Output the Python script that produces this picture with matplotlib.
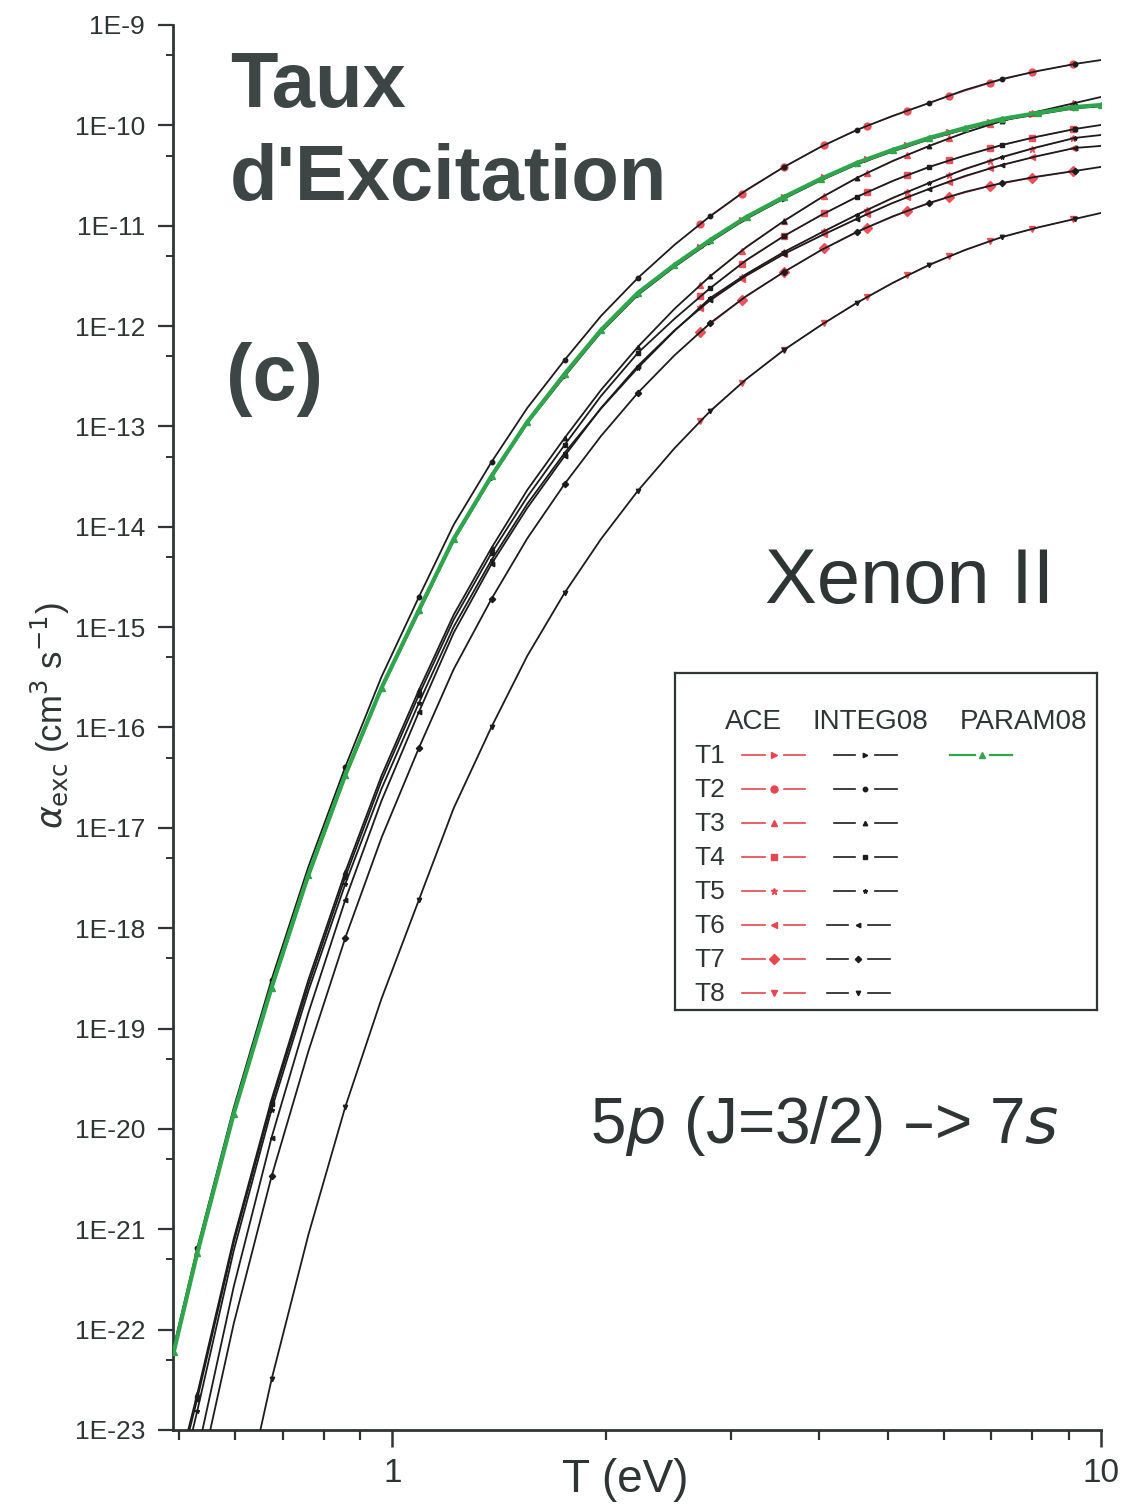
import numpy as np
import matplotlib
matplotlib.use("Agg")
import matplotlib.pyplot as plt
from matplotlib.ticker import FixedLocator, NullFormatter, FixedFormatter

# ---------------------------------------------------------------- data
# electron temperatures (eV) of the INTEG08 / PARAM08 tables
t_grid = [0.491, 0.53, 0.597, 0.675, 0.761, 0.858, 0.965, 1.09, 1.22, 1.38, 1.55, 1.75, 1.97,
          2.22, 2.50, 2.81, 3.16, 3.57, 4.02, 4.52, 5.08, 5.72, 6.43, 7.25, 8.15, 9.19, 10.0]

# log10 of the INTEG08 excitation rate coefficients (cm^3 s^-1)
log_integ_t1 = [-22.25, -21.26, -19.86, -18.61, -17.49, -16.49, -15.62, -14.85, -14.14, -13.51, -12.97, -12.50, -12.06,
                -11.69, -11.41, -11.16, -10.93, -10.73, -10.55, -10.39, -10.26, -10.14, -10.04, -9.95, -9.89, -9.83, -9.81]
log_integ_t2 = [-22.177, -21.191, -19.787, -18.512, -17.386, -16.390, -15.494, -14.697, -13.980, -13.353, -12.815, -12.337, -11.898,
                -11.520, -11.191, -10.902, -10.643, -10.414, -10.215, -10.046, -9.906, -9.777, -9.647, -9.538, -9.458, -9.388, -9.349]
log_integ_t3 = [-23.582, -22.645, -21.092, -19.707, -18.512, -17.436, -16.480, -15.624, -14.877, -14.209, -13.632, -13.114, -12.635,
                -12.207, -11.829, -11.500, -11.211, -10.952, -10.723, -10.524, -10.355, -10.205, -10.071, -9.956, -9.862, -9.777, -9.717]
log_integ_t4 = [-23.631, -22.695, -21.131, -19.747, -18.562, -17.486, -16.530, -15.673, -14.926, -14.259, -13.701, -13.183, -12.695,
                -12.267, -11.928, -11.620, -11.341, -11.102, -10.897, -10.713, -10.554, -10.414, -10.300, -10.195, -10.111, -10.036, -9.996]
log_integ_t5 = [-23.801, -22.815, -21.211, -19.807, -18.622, -17.556, -16.610, -15.753, -14.996, -14.329, -13.771, -13.263, -12.820,
                -12.416, -12.048, -11.719, -11.480, -11.261, -11.072, -10.892, -10.723, -10.574, -10.434, -10.315, -10.215, -10.125, -10.096]
log_integ_t6 = [-24.229, -23.243, -21.570, -20.086, -18.841, -17.715, -16.729, -15.843, -15.056, -14.369, -13.811, -13.293, -12.815,
                -12.396, -12.043, -11.739, -11.495, -11.281, -11.102, -10.932, -10.773, -10.633, -10.504, -10.394, -10.305, -10.225, -10.205]
log_integ_t7 = [-24.578, -23.592, -21.938, -20.474, -19.224, -18.094, -17.098, -16.201, -15.419, -14.717, -14.115, -13.572, -13.094,
                -12.665, -12.292, -11.968, -11.699, -11.460, -11.246, -11.062, -10.907, -10.773, -10.663, -10.574, -10.509, -10.454, -10.414]
log_integ_t8 = [-26.978, -25.882, -24.199, -22.496, -21.052, -19.777, -18.701, -17.715, -16.804, -15.992, -15.285, -14.657, -14.120,
                -13.641, -13.218, -12.845, -12.526, -12.237, -11.993, -11.769, -11.570, -11.390, -11.241, -11.112, -11.017, -10.932, -10.873]

# log10 of the PARAM08 fit for transition T1
log_param_t1 = [-22.227, -21.241, -19.847, -18.592, -17.466, -16.470, -15.604, -14.827, -14.120, -13.492, -12.954, -12.476, -12.038,
                -11.669, -11.390, -11.141, -10.912, -10.713, -10.534, -10.375, -10.245, -10.125, -10.026, -9.936, -9.876, -9.817, -9.797]

# ACE temperatures (eV) and log10 of the ACE rate coefficients (cm^3 s^-1)
t_ace = [2.72, 3.11, 3.57, 4.07, 4.67, 5.33, 6.11, 6.98, 7.99, 9.13]
log_ace_t1 = [-11.211, -10.942, -10.713, -10.514, -10.335, -10.195, -10.071, -9.966, -9.886, -9.822]
log_ace_t2 = [-10.982, -10.683, -10.414, -10.195, -10.006, -9.857, -9.707, -9.578, -9.468, -9.393]
log_ace_t3 = [-11.590, -11.251, -10.952, -10.703, -10.474, -10.295, -10.130, -9.991, -9.881, -9.782]
log_ace_t4 = [-11.699, -11.380, -11.102, -10.877, -10.668, -10.494, -10.350, -10.230, -10.125, -10.041]
log_ace_t5 = [-11.809, -11.510, -11.261, -11.052, -10.843, -10.663, -10.494, -10.355, -10.235, -10.130]
log_ace_t6 = [-11.819, -11.530, -11.281, -11.082, -10.887, -10.713, -10.564, -10.429, -10.320, -10.230]
log_ace_t7 = [-12.058, -11.739, -11.460, -11.226, -11.022, -10.853, -10.713, -10.604, -10.524, -10.459]
log_ace_t8 = [-12.944, -12.566, -12.237, -11.968, -11.714, -11.495, -11.306, -11.151, -11.032, -10.937]

labels = ["T1", "T2", "T3", "T4", "T5", "T6", "T7", "T8"]
markers = [">", "o", "^", "s", "*", "<", "D", "v"]

integ = [log_integ_t1, log_integ_t2, log_integ_t3, log_integ_t4,
         log_integ_t5, log_integ_t6, log_integ_t7, log_integ_t8]
ace = [log_ace_t1, log_ace_t2, log_ace_t3, log_ace_t4,
       log_ace_t5, log_ace_t6, log_ace_t7, log_ace_t8]

# ---------------------------------------------------------------- styles
RED = "#e8454f"
GREEN = "#2fa64c"
BLACK = "#1c1c1c"
INK = "#2f3434"
TITLE = "#3d4645"

plt.rcParams["font.family"] = ["Liberation Sans", "DejaVu Sans"]

W, H = 1123, 1510
fig = plt.figure(figsize=(W / 100, H / 100), dpi=100)
ax = fig.add_axes([173 / W, 1 - 1430 / H, (1101 - 173) / W, (1430 - 25) / H])

ax.set_xscale("log")
ax.set_yscale("log")
ax.set_xlim(0.49, 10)
ax.set_ylim(1e-23, 1e-9)

# ACE points (red) lie underneath the INTEG08 curves
for vals, mk in zip(ace, markers):
    ax.plot(t_ace, np.power(10.0, vals), color=RED, lw=0.8, marker=mk, ms=5,
            mec=RED, mfc=RED, alpha=0.9, zorder=2)

# INTEG08 curves (black), symbols on every other tabulated temperature
for vals, mk in zip(integ, markers):
    ax.plot(t_grid, np.power(10.0, vals), color=BLACK, lw=1.3, marker=mk, ms=3.2,
            mec=BLACK, mfc=BLACK, markevery=list(range(1, 26, 2)), zorder=4)

# PARAM08 fit for T1 (green), drawn over its INTEG08 counterpart
ax.plot(t_grid, np.power(10.0, log_param_t1), color=GREEN, lw=3.0, marker="^", ms=3.8,
        mec=GREEN, mfc=GREEN, zorder=5)

# axes decoration
for side in ("top", "right"):
    ax.spines[side].set_visible(False)
for side in ("left", "bottom"):
    ax.spines[side].set_linewidth(2.0)
    ax.spines[side].set_color(INK)

exps = list(range(-23, -8))
ax.yaxis.set_major_locator(FixedLocator([10.0 ** e for e in exps]))
ax.yaxis.set_major_formatter(FixedFormatter(["1E%d" % e for e in exps]))
ax.yaxis.set_minor_locator(FixedLocator([5 * 10.0 ** e for e in range(-23, -9)]))
ax.yaxis.set_minor_formatter(NullFormatter())

ax.xaxis.set_major_locator(FixedLocator([1, 10]))
ax.xaxis.set_major_formatter(FixedFormatter(["1", "10"]))
ax.xaxis.set_minor_locator(FixedLocator([0.5, 0.6, 0.7, 0.8, 0.9, 2, 3, 4, 5, 6, 7, 8, 9]))
ax.xaxis.set_minor_formatter(NullFormatter())

ax.tick_params(axis="y", which="major", direction="out", length=11, width=1.6, color=INK,
               labelsize=19, labelcolor=INK, pad=9)
ax.tick_params(axis="y", which="minor", direction="out", length=5, width=1.4, color=INK)
ax.tick_params(axis="x", which="major", direction="out", length=12, width=1.8, color=INK,
               labelsize=24, labelcolor=INK, pad=8)
ax.tick_params(axis="x", which="minor", direction="out", length=7, width=1.6, color=INK)

# axis titles
fig.text(625 / W, 1 - 1480 / H, "T (eV)", fontsize=33, color=INK, ha="center", va="center")
fig.text(50 / W, 1 - 716 / H, r"$\alpha_{\mathrm{exc}}$ (cm$^{3}$ s$^{-1}$)", fontsize=25,
         color=INK, rotation=90, ha="center", va="center")

# annotations
fig.text(230 / W, 1 - 107 / H, "Taux", fontsize=56, fontweight="bold", color=TITLE)
fig.text(230 / W, 1 - 200 / H, "d'Excitation", fontsize=56, fontweight="bold", color=TITLE)
fig.text(226 / W, 1 - 400 / H, "(c)", fontsize=57, fontweight="bold", color=TITLE)
fig.text(765 / W, 1 - 603 / H, "Xenon II", fontsize=56, color=INK)
fig.text(590 / W, 1 - 1143 / H, r"5$\it{p}$ (J=3/2) –> 7$\it{s}$", fontsize=46, color=INK)

# legend panel
lg = fig.add_axes([675 / W, 1 - 1010 / H, (1097 - 675) / W, (1010 - 673) / H])
lg.set_xlim(675, 1097)
lg.set_ylim(1010, 673)
lg.set_xticks([])
lg.set_yticks([])
for s in lg.spines.values():
    s.set_linewidth(1.6)
    s.set_color(INK)
lg.text(753, 722, "ACE", fontsize=20, ha="center", va="center", color=INK)
lg.text(870, 722, "INTEG08", fontsize=20, ha="center", va="center", color=INK)
lg.text(1023, 722, "PARAM08", fontsize=20, ha="center", va="center", color=INK)
for i, (lab, mk) in enumerate(zip(labels, markers)):
    y = 755 + 34 * i
    lg.text(694, y + 1, lab, fontsize=19, ha="left", va="center", color=INK)
    lg.plot([742, 765], [y, y], color=RED, lw=1.2)
    lg.plot([784, 805], [y, y], color=RED, lw=1.2)
    lg.plot([774], [y], marker=mk, ms=5, color=RED, ls="none")
    x0 = 834 if i < 5 else 827
    lg.plot([x0, x0 + 21], [y, y], color=BLACK, lw=1.2)
    lg.plot([x0 + 41, x0 + 63], [y, y], color=BLACK, lw=1.2)
    lg.plot([x0 + 31], [y], marker=mk, ms=3.2, color=BLACK, ls="none")
lg.plot([950, 975], [755, 755], color=GREEN, lw=1.6)
lg.plot([990, 1012], [755, 755], color=GREEN, lw=1.6)
lg.plot([982], [755], marker="^", ms=4, color=GREEN, ls="none")

fig.savefig("out.png", dpi=100)
